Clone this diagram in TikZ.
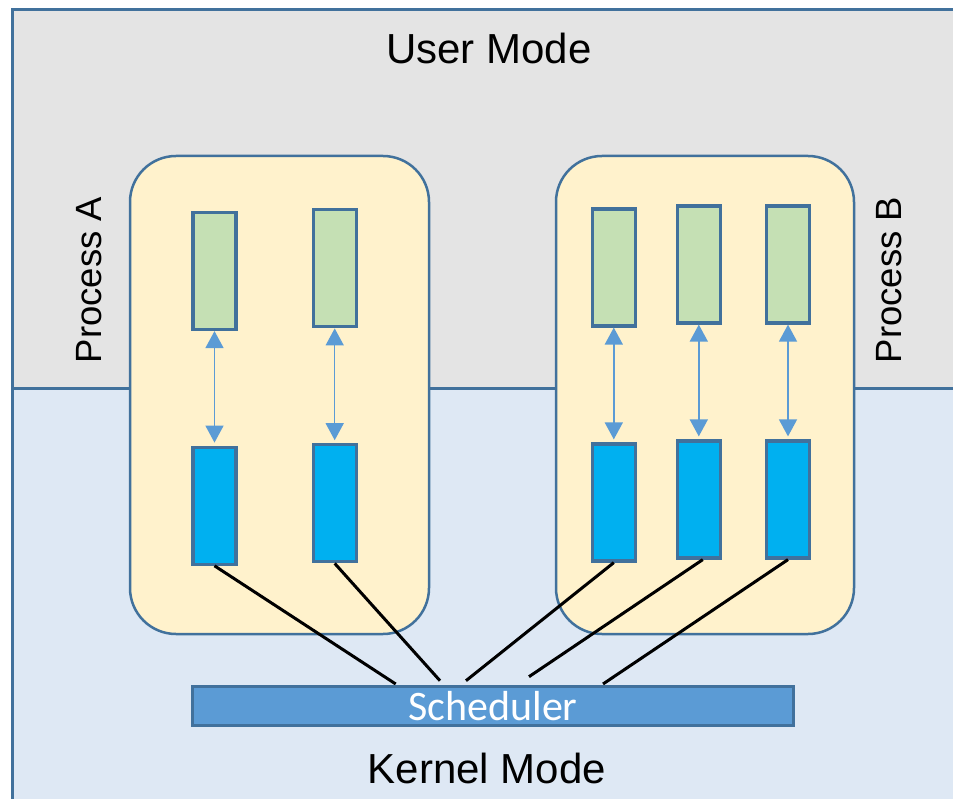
\documentclass[tikz,border=0pt]{standalone}
\usepackage{fontspec}
\setmainfont{Liberation Sans}
\newfontfamily\carlito{Carlito}
\usetikzlibrary{arrows.meta,calc}
\definecolor{usergray}{HTML}{E4E4E4}
\definecolor{kernelblue}{HTML}{DEE8F4}
\definecolor{frameblue}{HTML}{41719C}
\definecolor{procfill}{HTML}{FFF2CC}
\definecolor{greenfill}{HTML}{C5E0B4}
\definecolor{cyanfill}{HTML}{00B0F0}
\definecolor{arrowblue}{HTML}{5B9BD5}
\tikzset{
  modearea/.style={draw=frameblue, line width=3pt},
  procbox/.style={draw=frameblue, fill=procfill, line width=2.5pt, rounded corners=46pt},
  gbox/.style={draw=frameblue, fill=greenfill, line width=3.2pt, minimum width=43pt, minimum height=117pt, inner sep=0pt},
  bbox/.style={draw=frameblue, fill=cyanfill, line width=3.2pt, minimum width=43pt, minimum height=117pt, inner sep=0pt},
  linkarrow/.style={draw=arrowblue, line width=1.5pt, {Triangle[width=18pt,length=17pt]}-{Triangle[width=18pt,length=17pt]}},
  schedline/.style={draw=black, line width=3pt},
  bigtext/.style={font=\fontsize{42}{50}\selectfont, text=black, inner sep=0pt},
  proctext/.style={font=\fontsize{36.5}{44}\selectfont, text=black, inner sep=0pt, rotate=90},
  schedbox/.style={draw=frameblue, fill=arrowblue, line width=3pt, minimum width=601pt, minimum height=39pt, inner sep=0pt, font=\carlito\fontsize{42}{48}\selectfont, text=white}
}
\begin{document}
\begin{tikzpicture}[x=1pt,y=-1pt]
\useasboundingbox (0,0) rectangle (953,799);
\clip (0,0) rectangle (953,799);
% mode areas
\draw[modearea, fill=usergray] (12.5,9.5) rectangle (975,389);
\draw[modearea, fill=kernelblue] (12.5,389) rectangle (975,820);
\node[bigtext] (user) at (489,48) {User Mode};
\node[bigtext] (kernel) at (487,768) {Kernel Mode};
% process boxes
\draw[procbox] (130,156) rectangle (429,634);
\draw[procbox] (556,156) rectangle (854,634);
\node[proctext] (pa) at (89.5,280) {Process A};
\node[proctext] (pb) at (889.5,280) {Process B};
% threads
\node[gbox] (ga1) at (214.5,271) {};
\node[gbox] (ga2) at (334.7,268.3) {};
\node[gbox] (gb1) at (613.8,267.5) {};
\node[gbox] (gb2) at (698.8,264.5) {};
\node[gbox] (gb3) at (788,264.5) {};
\node[bbox] (ba1) at (214.5,505.7) {};
\node[bbox] (ba2) at (334.7,503.3) {};
\node[bbox] (bb1) at (613.8,502.5) {};
\node[bbox] (bb2) at (698.8,499.5) {};
\node[bbox] (bb3) at (788,499.5) {};
% arrows
\draw[linkarrow] (ga1.south) -- ($(ba1.north)+(0,-3)$);
\draw[linkarrow] (ga2.south) -- ($(ba2.north)+(0,-3)$);
\draw[linkarrow] (gb1.south) -- ($(bb1.north)+(0,-3)$);
\draw[linkarrow] (gb2.south) -- ($(bb2.north)+(0,-3)$);
\draw[linkarrow] (gb3.south) -- ($(bb3.north)+(0,-3)$);
% scheduler lines
\coordinate (e1) at (395.7,684);
\coordinate (e2) at (440,680.7);
\coordinate (e3) at (466,680.7);
\coordinate (e4) at (529,676.7);
\coordinate (e5) at (603,684);
\draw[schedline] (ba1.south) -- (e1);
\draw[schedline] (ba2.south) -- (e2);
\draw[schedline] (bb1.south) -- (e3);
\draw[schedline] ($(bb2.south)+(4,0)$) -- (e4);
\draw[schedline] (bb3.south) -- (e5);
% scheduler
\node[schedbox] (sched) at (493,706) {Scheduler};
\end{tikzpicture}
\end{document}
